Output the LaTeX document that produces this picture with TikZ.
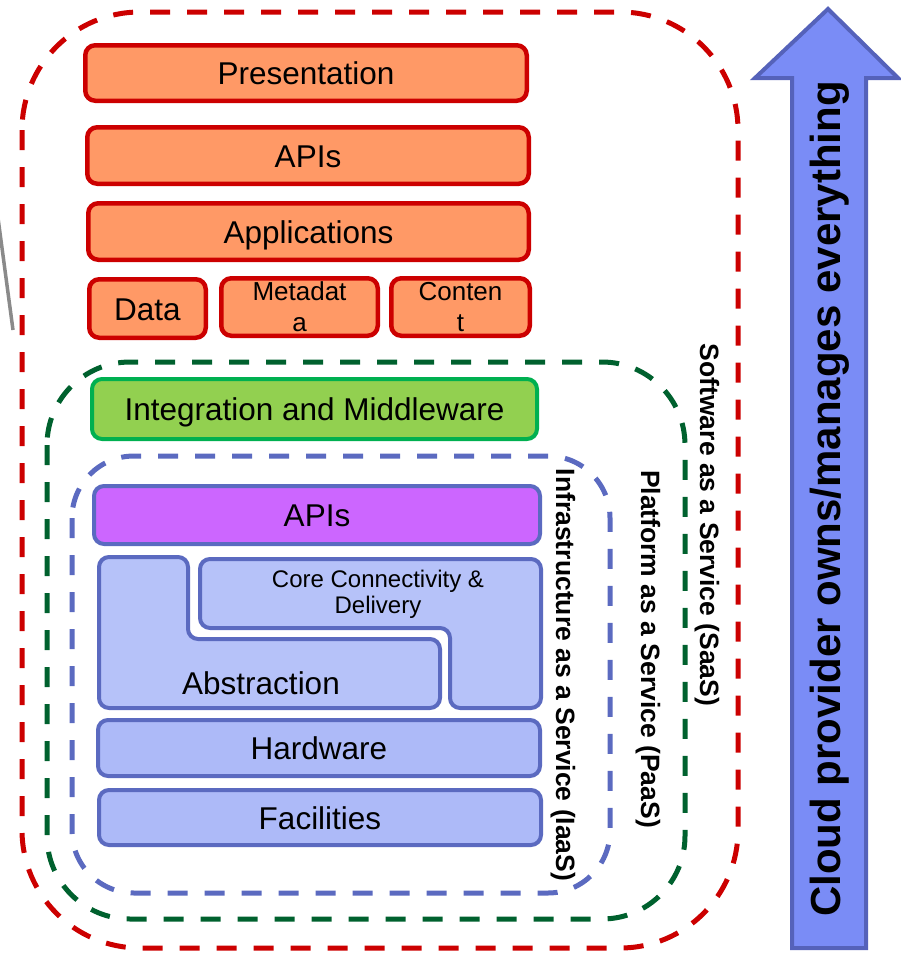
\documentclass[tikz,border=0pt]{standalone}
\usepackage{fontspec}
\setmainfont{Liberation Sans}
\begin{document}
\begin{tikzpicture}[x=1pt,y=-1pt]
% palette
\definecolor{sred}{HTML}{CC0000}
\definecolor{sorange}{HTML}{FF9966}
\definecolor{pgreen}{HTML}{00612E}
\definecolor{mgreen}{HTML}{92D050}
\definecolor{mgreenb}{HTML}{00B050}
\definecolor{iblue}{HTML}{5B6AC0}
\definecolor{ipurple}{HTML}{CC66FF}
\definecolor{ilight}{HTML}{B6C2F9}
\definecolor{ihw}{HTML}{ADBAF8}
\definecolor{arrowfill}{HTML}{7A8CF6}
\definecolor{arrowline}{HTML}{5562BA}
\definecolor{pointer}{HTML}{8A8A8A}
\tikzset{
  layerdash/.style={line width=5pt, dash pattern=on 20pt off 17pt},
  bigtext/.style={font=\fontsize{31.5}{36}\selectfont, text height=23pt, text depth=0pt},
  smalltext/.style={font=\fontsize{26}{31}\selectfont, align=center},
  saasbox/.style={draw=sred, fill=sorange, line width=4.5pt, rounded corners=10pt, inner sep=0pt},
  paasbox/.style={draw=mgreenb, fill=mgreen, line width=4pt, rounded corners=10pt, inner sep=0pt},
  iaasbox/.style={draw=iblue, line width=4pt, rounded corners=10pt, inner sep=0pt},
  sidelabel/.style={font=\bfseries\fontsize{26.5}{30}\selectfont, rotate=-90},
}
\useasboundingbox (0,0) rectangle (900,953);

% pointer line entering from the left
\coordinate (g1) at (-2,218);
\coordinate (g2) at (13,330);
\draw[line width=3.5pt, pointer] (g1) -- (g2);

% service-model boundaries
\draw[layerdash, draw=sred, rounded corners=118pt] (22,12) rectangle (738,948);
\draw[layerdash, draw=pgreen, rounded corners=83pt] (47,362) rectangle (685,919);
\draw[layerdash, draw=iblue, rounded corners=62pt] (72,456) rectangle (610,893);

% software layers
\node[saasbox, bigtext, minimum width=441.5pt, minimum height=55.5pt] (pres) at (306,73) {Presentation};
\node[saasbox, bigtext, minimum width=441.5pt, minimum height=56.5pt] (apis) at (308,155.5) {APIs};
\node[saasbox, bigtext, minimum width=440.5pt, minimum height=56.5pt] (apps) at (308.5,231.5) {Applications};
\node[saasbox, bigtext, minimum width=116.5pt, minimum height=58.5pt] (data) at (147.5,308.5) {Data};
\node[saasbox, smalltext, minimum width=156.5pt, minimum height=57.5pt] (meta) at (299.5,307) {Metadat\\a};
\node[saasbox, smalltext, minimum width=138.5pt, minimum height=57.5pt] (cont) at (460.5,307) {Conten\\t};

% platform layer
\node[paasbox, bigtext, minimum width=445pt, minimum height=60pt] (mid) at (314.5,409) {Integration and Middleware};

% infrastructure layers
\node[iaasbox, fill=ipurple, bigtext, minimum width=446pt, minimum height=58pt] (iapis) at (317,515) {APIs};
\draw[iaasbox, fill=ilight] (99,557) -- (188,557) -- (188,639) -- (440,639) -- (440,708) -- (99,708) -- cycle;
\draw[iaasbox, fill=ilight] (200,559) -- (541,559) -- (541,708) -- (450,708) -- (450,628) -- (200,628) -- cycle;
\node[smalltext, font=\fontsize{24}{26}\selectfont] (core) at (378,594) {Core Connectivity \&\\Delivery};
\node[bigtext] (abst) at (261,683) {Abstraction};
\node[iaasbox, fill=ihw, bigtext, minimum width=442pt, minimum height=56pt] (hw) at (319,748) {Hardware};
\node[iaasbox, fill=ihw, bigtext, minimum width=442pt, minimum height=55pt] (fac) at (320,817.5) {Facilities};

% vertical labels of the three models
\node[sidelabel] (saas) at (707,525) {Software as a Service (SaaS)};
\node[sidelabel] (paas) at (648,649) {Platform as a Service (PaaS)};
\node[sidelabel] (iaas) at (563,675) {Infrastructure as a Service (IaaS)};

% responsibility arrow
\draw[line width=4pt, draw=arrowline, fill=arrowfill, line join=miter]
  (792,948) -- (792,78) -- (755,78) -- (828,9) -- (898,78) -- (866,78) -- (866,948) -- cycle;
\node[font=\bfseries\fontsize{42}{46}\selectfont, rotate=90] (cloud) at (830,499) {Cloud provider owns/manages everything};
\end{tikzpicture}
\end{document}
